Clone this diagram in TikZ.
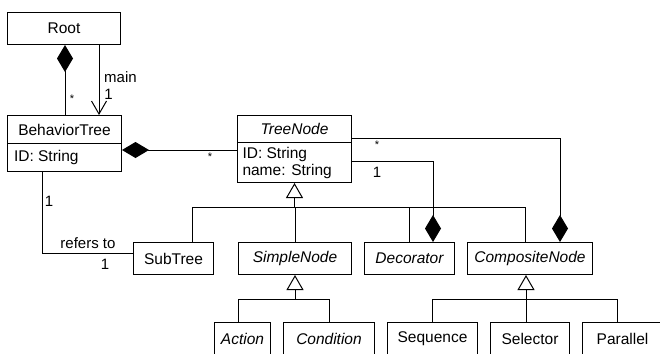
\documentclass[tikz,border=0pt]{standalone}
\usepackage{fontspec}
\setmainfont{Liberation Sans}
\usetikzlibrary{arrows.meta}
\begin{document}
\begin{tikzpicture}[x=1pt,y=-1pt,
  every node/.style={font=\fontsize{15.5}{17}\selectfont},
  box/.style={draw, line width=1pt, inner sep=0pt, anchor=north west},
  attr/.style={box, align=flush left},
  lbl/.style={inner sep=0pt, font=\fontsize{15}{17}\selectfont},
  star/.style={inner sep=0pt, font=\fontsize{11}{12}\selectfont},
  ln/.style={line width=1pt},
  diam/.tip={Diamond[length=27pt,width=16pt]},
  inh/.tip={Triangle[open,length=15pt,width=17pt,fill=white]},
  nav/.tip={Straight Barb[length=13pt,width=15pt]}
]
\useasboundingbox (0,0) rectangle (660,353);
\clip (0,0) rectangle (660,353);
% classes
\node[box, minimum width=113pt, minimum height=32pt] (root) at (7,12) {Root};
\node[box, minimum width=114pt, minimum height=28pt] (bt) at (7,115) {BehaviorTree};
\node[attr, text width=101pt, minimum height=28pt, inner xsep=6.5pt] (btattr) at (7,143) {ID: String};
\node[box, minimum width=114pt, minimum height=27pt] (tn) at (237,115) {\itshape TreeNode};
\node[attr, text width=104pt, minimum height=40pt, inner xsep=5pt] (tnattr) at (237,142) {ID: String\\name: String};
\node[box, minimum width=80pt, minimum height=32pt] (sub) at (133,242) {SubTree};
\node[box, minimum width=113pt, minimum height=32pt] (sp) at (238,242) {\itshape SimpleNode};
\node[box, minimum width=90pt, minimum height=32pt] (dec) at (364,242) {\itshape Decorator};
\node[box, minimum width=125pt, minimum height=32pt] (cn) at (467,242) {\itshape CompositeNode};
\node[box, minimum width=56pt, minimum height=33pt] (act) at (214,322) {\itshape Action};
\node[box, minimum width=91pt, minimum height=33pt] (cond) at (283,322) {\itshape Condition};
\node[box, minimum width=90pt, minimum height=33pt] (seq) at (387,322) {Sequence};
\node[box, minimum width=79pt, minimum height=33pt] (sel) at (490,322) {Selector};
\node[box, minimum width=80pt, minimum height=33pt] (par) at (582,322) {Parallel};
% Root -- BehaviorTree
\draw[ln, diam-] ([xshift=58pt]root.south west) -- ([xshift=58pt]bt.north west);
\draw[ln, -nav] ([xshift=92pt]root.south west) -- ([xshift=92pt]bt.north west);
\node[star] (s1) at (72,99) {*};
\node[lbl, anchor=base west] (mainl) at (104,82) {main};
\node[lbl, anchor=base] (one1) at (108.5,99) {1};
% BehaviorTree -- TreeNode
\draw[ln, diam-] ([yshift=-7pt]btattr.north east) coordinate (d1) -- (d1 -| tnattr.west);
\node[star] (s2) at (210,157) {*};
% TreeNode -- CompositeNode / Decorator
\coordinate (cnd) at ([xshift=93pt]cn.north west);
\coordinate (decd) at ([xshift=69pt]dec.north west);
\draw[ln, -diam] ([yshift=-23pt]tn.north east) -| (cnd);
\draw[ln, -diam] ([yshift=-19pt]tnattr.north east) -| (decd);
\node[star] (s3) at (377,145) {*};
\node[lbl, anchor=base] (one2) at (377,177) {1};
% generalisation TreeNode
\coordinate (bus1) at (0,207);
\coordinate (sbd) at ([xshift=59pt]sub.north west);
\coordinate (cnd2) at ([xshift=58pt]cn.north west);
\draw[ln] (sbd) |- (cnd2 |- bus1) -- (cnd2);
\draw[ln] (sp.north) -- (sp.north |- bus1);
\draw[ln] (dec.north) -- (dec.north |- bus1);
\draw[ln, -inh] (tnattr.south |- bus1) -- (tnattr.south);
% BehaviorTree -- SubTree
\coordinate (btd) at ([xshift=35pt]btattr.south west);
\coordinate (subw) at ([yshift=5pt]sub.west);
\draw[ln] (btd) |- (subw);
\node[lbl, anchor=base] (one3) at (49,206) {1};
\node[lbl, anchor=base] (ref) at (88,248) {refers to};
\node[lbl, anchor=base] (one4) at (105,269) {1};
% generalisation SimpleNode
\coordinate (bus2) at (0,299);
\coordinate (actd) at ([xshift=24pt]act.north west);
\draw[ln] (actd) |- (cond.north |- bus2) -- (cond.north);
\draw[ln, -inh] (sp.south |- bus2) -- (sp.south);
% generalisation CompositeNode
\coordinate (ctri) at ([xshift=59pt]cn.south west);
\coordinate (pard) at ([xshift=35pt]par.north west);
\draw[ln] (seq.north) |- (pard |- bus2) -- (pard);
\draw[ln] (ctri |- bus2) -- (ctri |- sel.north);
\draw[ln, -inh] (ctri |- bus2) -- (ctri);
\end{tikzpicture}
\end{document}
